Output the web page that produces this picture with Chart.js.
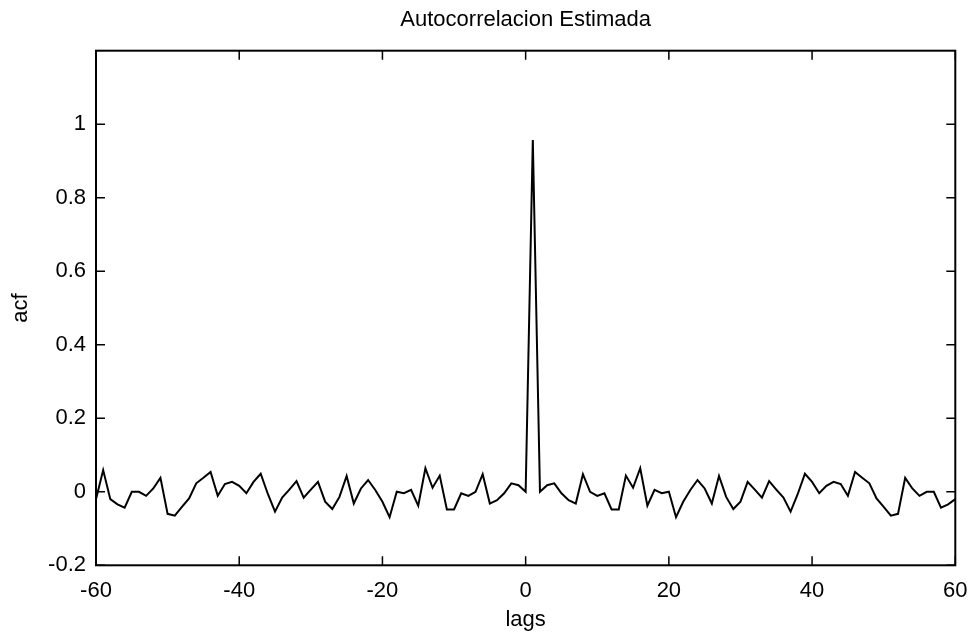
<!DOCTYPE html>
<html>
<head>
<meta charset="utf-8">
<script src="https://cdn.jsdelivr.net/npm/chart.js@4/dist/chart.umd.min.js"></script>
<style>
  html, body { margin: 0; padding: 0; background: #fff; }
  #wrap { width: 970px; height: 637px; }
</style>
</head>
<body>
<div id="wrap"><canvas id="c" width="970" height="637"></canvas></div>
<script>
const chartTitle = 'Autocorrelacion Estimada';
const xLabel = 'lags';
const yLabel = 'acf';

const lags = [
  -60,-59,-58,-57,-56,-55,-54,-53,-52,-51,
  -50,-49,-48,-47,-46,-45,-44,-43,-42,-41,
  -40,-39,-38,-37,-36,-35,-34,-33,-32,-31,
  -30,-29,-28,-27,-26,-25,-24,-23,-22,-21,
  -20,-19,-18,-17,-16,-15,-14,-13,-12,-11,
  -10,-9,-8,-7,-6,-5,-4,-3,-2,-1,
  0,1,2,3,4,5,6,7,8,9,
  10,11,12,13,14,15,16,17,18,19,
  20,21,22,23,24,25,26,27,28,29,
  30,31,32,33,34,35,36,37,38,39,
  40,41,42,43,44,45,46,47,48,49,
  50,51,52,53,54,55,56,57,58,59,
  60
];

const acf = [
  -0.020, 0.059, -0.020, -0.034, -0.043, 0.000, 0.000, -0.011, 0.009, 0.038,
  -0.060, -0.065, -0.041, -0.018, 0.023, 0.038, 0.054, -0.011, 0.021, 0.027,
  0.016, -0.004, 0.027, 0.049, -0.006, -0.054, -0.016, 0.006, 0.029, -0.016,
  0.006, 0.027, -0.027, -0.047, -0.014, 0.043, -0.032, 0.009, 0.032, 0.005,
  -0.027, -0.069, 0.000, -0.004, 0.005, -0.038, 0.064, 0.011, 0.044, -0.048,
  -0.048, -0.004, -0.011, 0.000, 0.048, -0.032, -0.023, -0.004, 0.023, 0.018,
  0.000, 0.957, 0.000, 0.018, 0.023, -0.004, -0.023, -0.032, 0.048, 0.000,
  -0.011, -0.004, -0.048, -0.048, 0.044, 0.011, 0.064, -0.038, 0.005, -0.004,
  0.000, -0.069, -0.027, 0.005, 0.032, 0.009, -0.032, 0.043, -0.014, -0.047,
  -0.027, 0.027, 0.006, -0.016, 0.029, 0.006, -0.016, -0.054, -0.006, 0.049,
  0.027, -0.004, 0.016, 0.027, 0.021, -0.011, 0.054, 0.038, 0.023, -0.018,
  -0.041, -0.065, -0.060, 0.038, 0.009, -0.011, 0.000, 0.000, -0.043, -0.034,
  -0.020
];

const xTicks = [-60, -40, -20, 0, 20, 40, 60];
const yTicks = [-0.2, 0, 0.2, 0.4, 0.6, 0.8, 1];

const FONT = '"Liberation Sans", Arial, sans-serif';

const framePlugin = {
  id: 'frame',
  afterDatasetsDraw(chart) {
    const { ctx, chartArea: { left, right, top, bottom }, scales: { x, y } } = chart;
    ctx.save();
    ctx.strokeStyle = '#000';
    ctx.lineWidth = 2;
    ctx.strokeRect(left, top, right - left, bottom - top);
    ctx.lineWidth = 1.5;
    const L = 9;
    ctx.beginPath();
    x.ticks.forEach(t => {
      const px = x.getPixelForValue(t.value);
      ctx.moveTo(px, bottom); ctx.lineTo(px, bottom - L);
      ctx.moveTo(px, top); ctx.lineTo(px, top + L);
    });
    y.ticks.forEach(t => {
      const py = y.getPixelForValue(t.value);
      ctx.moveTo(left, py); ctx.lineTo(left + L, py);
      ctx.moveTo(right, py); ctx.lineTo(right - L, py);
    });
    ctx.stroke();
    ctx.restore();
  }
};

new Chart(document.getElementById('c'), {
  type: 'line',
  data: {
    datasets: [{
      data: lags.map((l, i) => ({ x: l, y: acf[i] })),
      borderColor: '#000',
      borderWidth: 2,
      pointRadius: 0,
      tension: 0,
      fill: false
    }]
  },
  options: {
    responsive: false,
    animation: false,
    devicePixelRatio: 1,
    layout: { padding: { left: 0, right: 14.7, top: 0, bottom: 0 } },
    plugins: {
      legend: { display: false },
      tooltip: { enabled: false },
      title: {
        display: true,
        fullSize: false,
        text: chartTitle,
        color: '#000',
        font: { family: FONT, size: 22, weight: 'normal' },
        padding: { top: 7, bottom: 17.3 }
      }
    },
    scales: {
      x: {
        type: 'linear',
        min: -60, max: 60,
        afterBuildTicks: s => { s.ticks = xTicks.map(v => ({ value: v })); },
        afterFit: s => { s.height = 71.7; s.paddingLeft = 0; s.paddingRight = 0; },
        grid: { display: false, drawTicks: false },
        border: { display: false },
        ticks: {
          color: '#000',
          font: { family: FONT, size: 22 },
          padding: 12,
          maxRotation: 0,
          callback: v => String(v)
        },
        title: {
          display: true, text: xLabel, color: '#000',
          font: { family: FONT, size: 22 },
          padding: { top: 0, bottom: 4 }
        }
      },
      y: {
        type: 'linear',
        min: -0.2, max: 1.2,
        afterBuildTicks: s => { s.ticks = yTicks.map(v => ({ value: v })); },
        afterFit: s => { s.width = 96; s.paddingTop = 0; s.paddingBottom = 0; },
        grid: { display: false, drawTicks: false },
        border: { display: false },
        ticks: {
          color: '#000',
          font: { family: FONT, size: 22 },
          padding: 10,
          callback: v => String(+(+v).toFixed(1))
        },
        title: {
          display: true, text: yLabel, color: '#000',
          font: { family: FONT, size: 22 },
          padding: { top: 8, bottom: 0 }
        }
      }
    }
  },
  plugins: [framePlugin]
});
</script>
</body>
</html>
